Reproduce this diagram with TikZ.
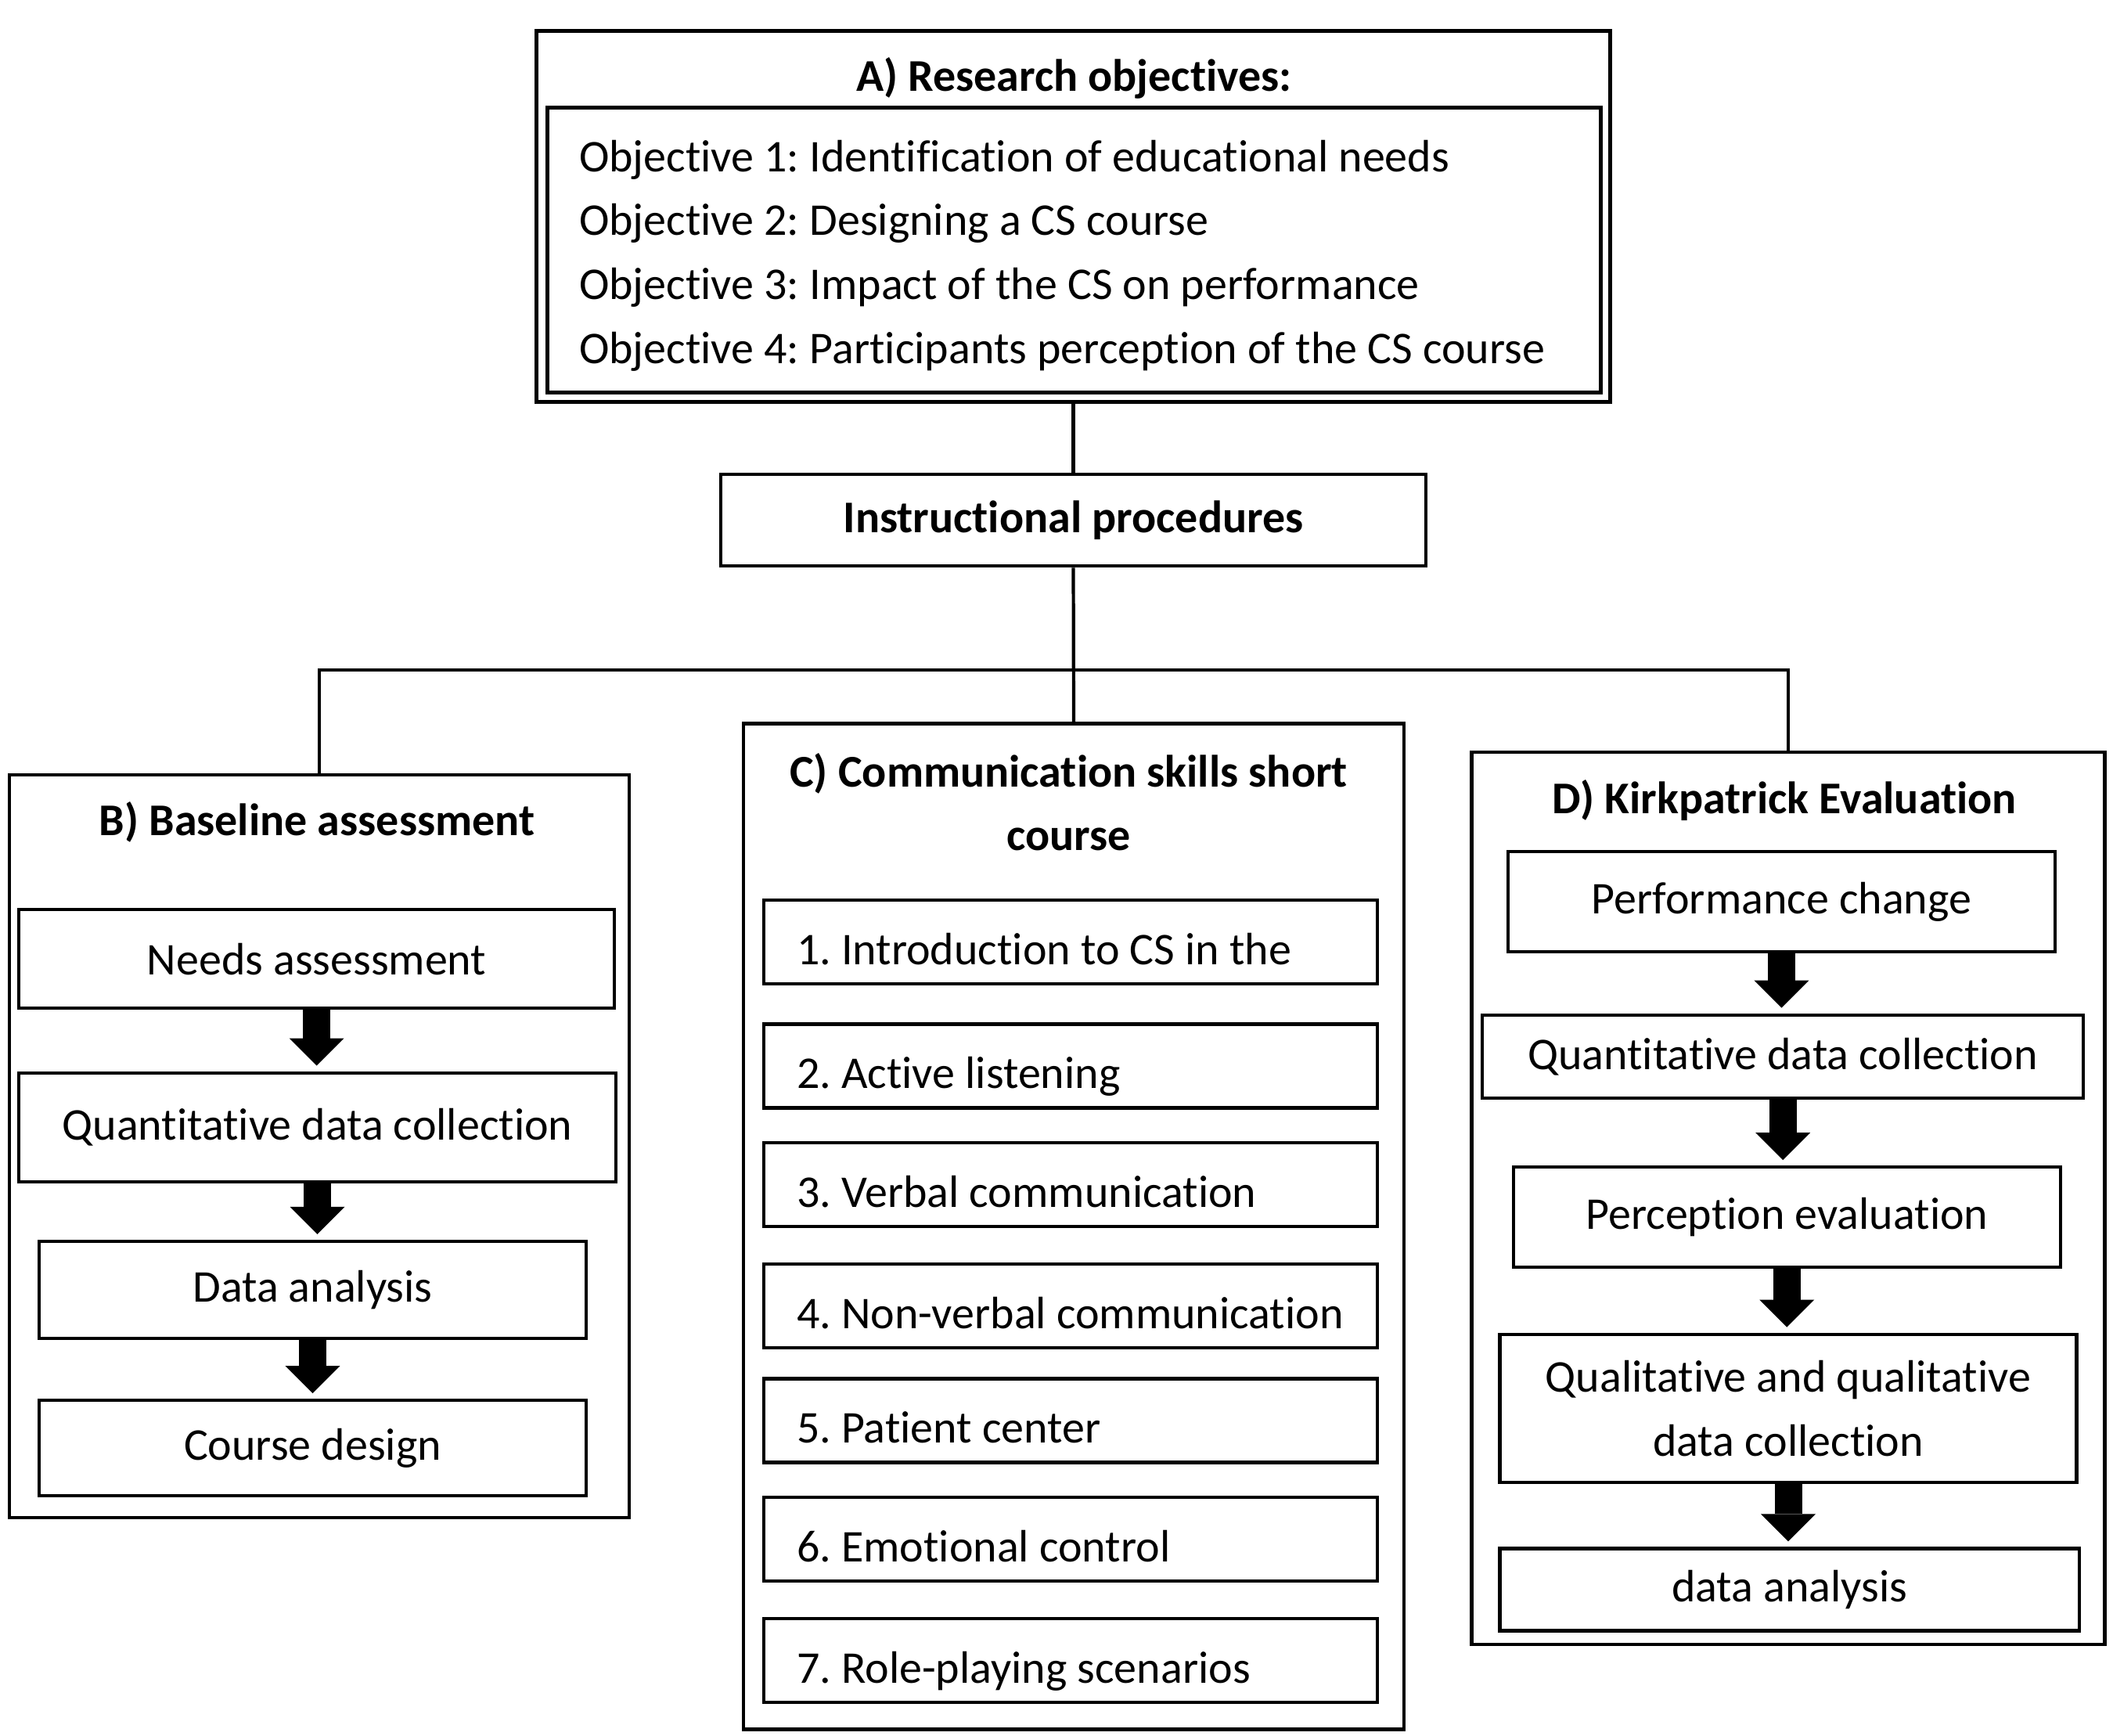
\documentclass[tikz,border=0pt]{standalone}
\usepackage{fontspec}
\setmainfont{Carlito}[Ligatures=NoCommon]
\usetikzlibrary{arrows.meta, positioning}
\newcommand{\boxfont}{\fontsize{16.5}{23.2}\selectfont\frenchspacing}

\begin{document}
\begin{tikzpicture}[
        panel/.style={draw, line width=1.3pt, inner sep=0pt},
        stepbox/.style={draw, line width=1.2pt, font=\boxfont, align=center, inner sep=0pt},
        item/.style={draw, line width=1.2pt, font=\boxfont, align=flush left, text width=7.0cm, inner xsep=0.42cm, text height=16.4pt, text depth=0pt, minimum height=1.07cm},
        heading/.style={font=\boxfont\bfseries, align=center},
        link/.style={line width=1.2pt},
        blockarrow/.style={line width=3.5mm, -{Triangle[width=7mm, length=3.5mm, line width=0pt]}, shorten >=0.7mm}
    ]
        \useasboundingbox (0,0) rectangle (27,-22.17);

        % A) Research objectives
        \node[panel, line width=1.5pt, minimum width=13.724cm, minimum height=4.735cm] (goals) at (13.715,-2.764) {};
        \node[heading] (goalstitle) at (13.724,-0.999) {A) Research objectives:};
        \node[draw, line width=1.5pt, font=\boxfont, align=flush left, text width=12.645cm, inner xsep=0.41cm, text height=15.5pt, minimum height=3.633cm] (goallist) at (13.724,-3.195) {
            Objective 1: Identification of educational needs\\
            Objective 2: Designing a CS course\\
            Objective 3: Impact of the CS on performance\\
            Objective 4: Participants perception of the CS course
        };

        % Instructional procedures
        \node[stepbox, font=\boxfont\bfseries, minimum width=9.006cm, minimum height=1.171cm] (instr) at (13.715,-6.646) {Instructional procedures};

        % B) Baseline assessment
        \node[panel, minimum width=7.92cm, minimum height=9.488cm] (base) at (4.081,-14.645) {};
        \node[heading] (basetitle) at (4.05,-10.503) {B) Baseline assessment};
        \node[stepbox, minimum width=7.611cm, minimum height=1.257cm] (needs) at (4.046,-12.251) {Needs assessment};
        \node[stepbox, minimum width=7.628cm, minimum height=1.395cm] (quantb) at (4.055,-14.404) {Quantitative data collection};
        \node[stepbox, minimum width=6.991cm, minimum height=1.239cm] (analysisb) at (3.995,-16.479) {Data analysis};
        \node[stepbox, minimum width=6.991cm, minimum height=1.222cm] (design) at (3.995,-18.502) {Course design};

        % C) Communication skills short course
        \node[panel, minimum width=8.438cm, minimum height=12.845cm] (course) at (13.72,-15.670) {};
        \node[heading] (coursetitle) at (13.655,-10.2455) {C) Communication skills short\\course};
        \node[item] (intro) at (13.68,-12.036) {1. Introduction to CS in the};
        \node[item] (listen) at (13.68,-13.620) {2. Active listening};
        \node[item] (verbal) at (13.68,-15.136) {3. Verbal communication};
        \node[item] (nonverbal) at (13.68,-16.685) {4. Non-verbal communication};
        \node[item] (patient) at (13.68,-18.149) {5. Patient center};
        \node[item] (emotion) at (13.68,-19.664) {6. Emotional control};
        \node[item] (roleplay) at (13.68,-21.214) {7. Role-playing scenarios};

        % D) Kirkpatrick Evaluation
        \node[panel, minimum width=8.093cm, minimum height=11.399cm] (eval) at (22.85,-15.308) {};
        \node[heading] (evaltitle) at (22.798,-10.228) {D) Kirkpatrick Evaluation};
        \node[stepbox, minimum width=6.991cm, minimum height=1.275cm] (perf) at (22.764,-11.520) {Performance change};
        \node[stepbox, minimum width=7.68cm, minimum height=1.067cm] (quantd) at (22.781,-13.500) {Quantitative data collection};
        \node[stepbox, minimum width=6.991cm, minimum height=1.274cm] (percep) at (22.833,-15.549) {Perception evaluation};
        \node[stepbox, minimum width=7.369cm, minimum height=1.894cm] (qual) at (22.85,-17.994) {Qualitative and qualitative\\data collection};
        \node[stepbox, minimum width=7.404cm, minimum height=1.05cm] (analysisd) at (22.867,-20.31) {data analysis};

        % Tree lines
        \coordinate (hub) at (13.724,-8.558);
        \draw[link] (goals.south) -- (instr.north);
        \draw[link] (instr.south) -- (course.north);
        \draw[link] (base.north) |- (hub) -| (eval.north);

        % Block arrows
        \draw[blockarrow] (needs.south) -- (needs.south |- quantb.north);
        \draw[blockarrow] (quantb.south) -- (quantb.south |- analysisb.north);
        \draw[blockarrow] (analysisb.south) -- (analysisb.south |- design.north);
        \draw[blockarrow] (perf.south) -- (perf.south |- quantd.north);
        \draw[blockarrow] (quantd.south) -- (quantd.south |- percep.north);
        \draw[blockarrow] (percep.south) -- (percep.south |- qual.north);
        \draw[blockarrow] (qual.south) -- (qual.south |- analysisd.north);
    \end{tikzpicture}
\end{document}
